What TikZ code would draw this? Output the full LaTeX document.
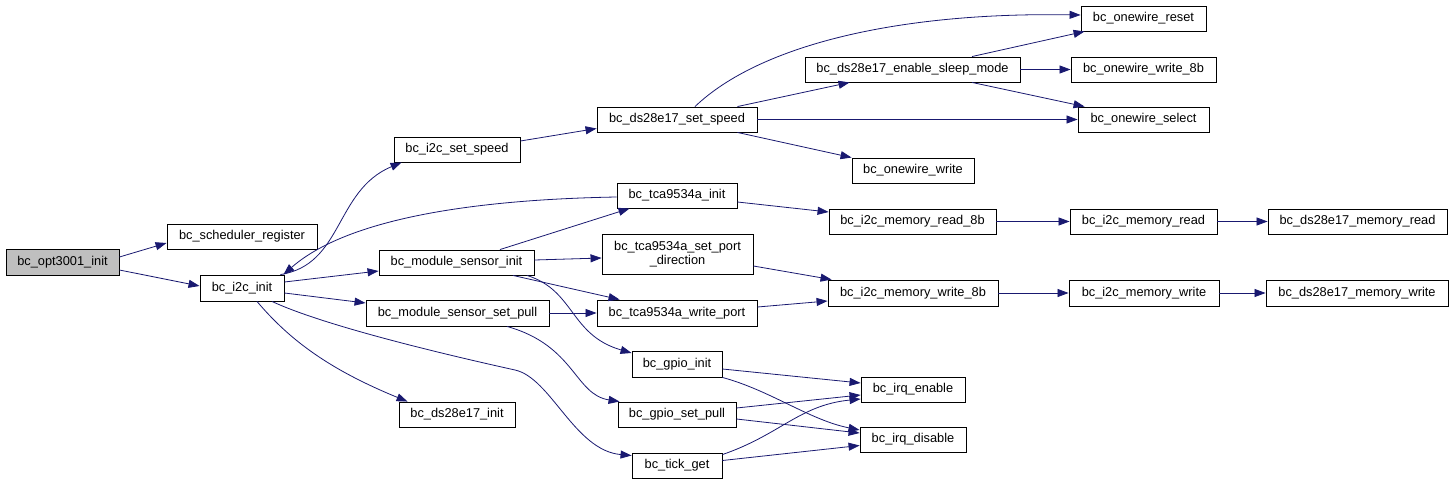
\documentclass[tikz,border=0pt]{standalone}
\usepackage{fontspec}
\setmainfont{Liberation Sans}
\usetikzlibrary{arrows.meta,calc}
\definecolor{edgecol}{HTML}{191970}
\definecolor{curfill}{HTML}{BFBFBF}
\begin{document}
\begin{tikzpicture}[x=1pt,y=-1pt,
  fn/.style={draw=black,line width=0.9pt,fill=white,inner sep=0pt,minimum height=25pt,
    font=\fontsize{12.8}{14}\selectfont,align=center},
  cur/.style={fn,fill=curfill},
  call/.style={draw=edgecol,line width=0.8pt,-{Triangle[length=11pt,width=8pt]},fill=none},
]
\useasboundingbox (0,0) rectangle (1453,484);
% nodes
\node[cur,minimum width=113pt,minimum height=26pt] (opt) at (62.5,262) {bc\_opt3001\_init};
\node[fn,minimum width=150pt] (sched) at (242,236.5) {bc\_scheduler\_register};
\node[fn,minimum width=84pt,minimum height=26pt] (i2cinit) at (242,288) {bc\_i2c\_init};
\node[fn,minimum width=126pt] (setspeed) at (457,149.5) {bc\_i2c\_set\_speed};
\node[fn,minimum width=160pt] (dsspeed) at (677,119.5) {bc\_ds28e17\_set\_speed};
\node[fn,minimum width=215pt] (sleep) at (912.5,69.5) {bc\_ds28e17\_enable\_sleep\_mode};
\node[fn,minimum width=125pt] (reset) at (1143.5,18.5) {bc\_onewire\_reset};
\node[fn,minimum width=145pt] (w8b) at (1143.5,69.5) {bc\_onewire\_write\_8b};
\node[fn,minimum width=131pt] (select) at (1143.5,119.5) {bc\_onewire\_select};
\node[fn,minimum width=122pt] (owwrite) at (913,170.5) {bc\_onewire\_write};
\node[fn,minimum width=120pt] (tcainit) at (677,195.5) {bc\_tca9534a\_init};
\node[fn,minimum width=167pt] (rd8b) at (912.5,221.5) {bc\_i2c\_memory\_read\_8b};
\node[fn,minimum width=147pt] (rd) at (1143.5,221.5) {bc\_i2c\_memory\_read};
\node[fn,minimum width=179pt] (dsrd) at (1357.5,221.5) {bc\_ds28e17\_memory\_read};
\node[fn,minimum width=155pt] (msinit) at (456.5,262.5) {bc\_module\_sensor\_init};
\node[fn,minimum width=151pt,minimum height=40pt] (portdir) at (677.5,254) {bc\_tca9534a\_set\_port\\\_direction};
\node[fn,minimum width=170pt,minimum height=26pt] (wr8b) at (913,293) {bc\_i2c\_memory\_write\_8b};
\node[fn,minimum width=150pt,minimum height=26pt] (wr) at (1144,293) {bc\_i2c\_memory\_write};
\node[fn,minimum width=182pt,minimum height=26pt] (dswr) at (1357,293) {bc\_ds28e17\_memory\_write};
\node[fn,minimum width=183pt,minimum height=26pt] (mspull) at (457.5,313) {bc\_module\_sensor\_set\_pull};
\node[fn,minimum width=160pt,minimum height=26pt] (wport) at (677,313) {bc\_tca9534a\_write\_port};
\node[fn,minimum width=90pt,minimum height=26pt] (gpinit) at (677,364) {bc\_gpio\_init};
\node[fn,minimum width=118pt] (gppull) at (677,414.5) {bc\_gpio\_set\_pull};
\node[fn,minimum width=90pt] (tick) at (677,465.5) {bc\_tick\_get};
\node[fn,minimum width=116pt] (dsinit) at (457,414.5) {bc\_ds28e17\_init};
\node[fn,minimum width=104pt] (irqen) at (913,389.5) {bc\_irq\_enable};
\node[fn,minimum width=106pt] (irqdis) at (913,439.5) {bc\_irq\_disable};
% waypoint for long curve
\coordinate (m8) at (515,370);
% edges
\draw[call] ($(opt.east)+(0,-5)$) -- ($(sched.west)+(0,6.5)$);
\draw[call] ($(opt.east)+(0,8)$) -- ($(i2cinit.west)+(0,-2)$);
\draw[call] ($(i2cinit.north east)+(-4,0)$) .. controls +(63,-10) and +(-67,28) .. ($(setspeed.south west)+(8,0)$);
\draw[call] ($(tcainit.west)+(0,1.5)$) .. controls +(-167,3) and +(57,-50) .. ($(i2cinit.north east)+(-1,0)$);
\draw[call] ($(i2cinit.east)+(0,-6)$) -- ($(msinit.west)+(0,8.5)$);
\draw[call] ($(i2cinit.east)+(0,5)$) -- ($(mspull.west)+(0,-10)$);
\draw[call] ($(i2cinit.south)+(15,0)$) .. controls +(33,39) and +(-78,-32) .. ($(dsinit.north west)+(9,0)$);
\draw[call] ($(i2cinit.south)+(30,0)$) .. controls +(58,27) and +(-45,-10) .. (m8)
   .. controls +(36,8) and +(-57,-5) .. ($(tick.west)+(0,-10)$);
\draw[call] ($(setspeed.east)+(0,-8.5)$) -- ($(dsspeed.west)+(0,9)$);
\draw[call] ($(dsspeed.north)+(18,0)$) .. controls +(65,-62) and +(-181,-3) .. ($(reset.west)+(0,-3.5)$);
\draw[call] ($(dsspeed.north east)+(-20,0)$) -- ($(sleep.south west)+(45,0)$);
\draw[call] (dsspeed.east) -- (select.west);
\draw[call] ($(dsspeed.south east)+(-20,0)$) -- (owwrite.north west);
\draw[call] ($(sleep.north)+(59.5,0)$) -- ($(reset.south west)+(4,0)$);
\draw[call] (sleep.east) -- (w8b.west);
\draw[call] ($(sleep.south)+(59.5,0)$) -- ($(select.north west)+(7,0)$);
\draw[call] ($(tcainit.east)+(0,6.5)$) -- ($(rd8b.west)+(0,-9.5)$);
\draw[call] ($(msinit.north)+(43.5,0)$) -- ($(tcainit.south west)+(13,0)$);
\draw[call] ($(msinit.east)+(0,-2.5)$) -- ($(portdir.west)+(0,4)$);
\draw[call] ($(msinit.south)+(56.5,0)$) -- ($(wport.north west)+(23,0)$);
\draw[call] ($(msinit.south)+(70.5,0)$) .. controls +(48,15) and +(-62,-18) .. ($(gpinit.west)+(0,-11)$);
\draw[call] (mspull.east) -- (wport.west);
\draw[call] ($(mspull.south)+(49.5,0)$) .. controls +(68,19) and +(-45,-7) .. ($(gppull.north west)+(2,0)$);
\draw[call] ($(portdir.east)+(0,12)$) -- ($(wr8b.north west)+(4,0)$);
\draw[call] ($(wport.east)+(0,-6)$) -- ($(wr8b.west)+(0,8)$);
\draw[call] (rd8b.east) -- (rd.west);
\draw[call] (rd.east) -- (dsrd.west);
\draw[call] (wr8b.east) -- (wr.west);
\draw[call] (wr.east) -- (dswr.west);
\draw[call] ($(gpinit.east)+(0,5)$) -- ($(irqen.west)+(0,-6.5)$);
\draw[call] (gpinit.south east) .. controls +(48,13) and +(-50,-10) .. ($(irqdis.west)+(0,-9.5)$);
\draw[call] ($(gppull.east)+(0,-6.5)$) -- ($(irqen.west)+(0,5.5)$);
\draw[call] ($(gppull.east)+(0,4.5)$) -- ($(irqdis.west)+(0,-6.5)$);
\draw[call] ($(tick.north east)+(0,2)$) .. controls +(58,-20) and +(-61,6) .. ($(irqen.west)+(0,9.5)$);
\draw[call] ($(tick.east)+(0,-5)$) -- ($(irqdis.west)+(0,6)$);
\end{tikzpicture}
\end{document}
